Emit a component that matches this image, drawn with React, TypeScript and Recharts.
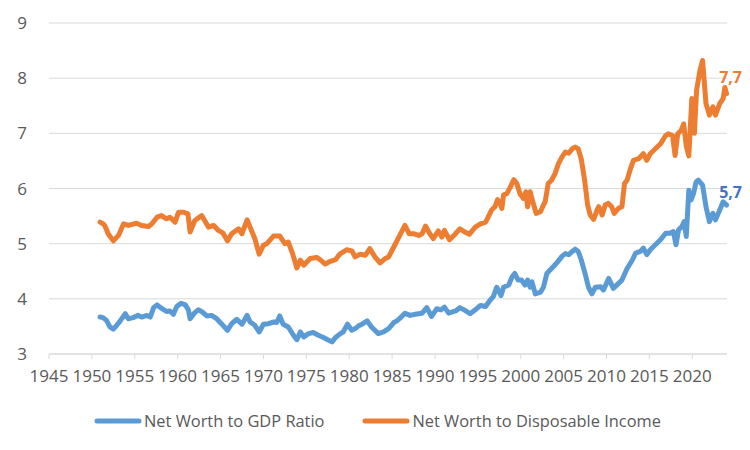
import { LineChart, Line, XAxis, YAxis, CartesianGrid, Legend } from "recharts";

// Net worth to GDP ratio (blue)
const gdpYears = [
  1950.95, 1951.3, 1951.7, 1952.1, 1952.5, 1952.9, 1953.3, 1953.9, 1954.25, 1954.8,
  1955.4, 1955.8, 1956.4, 1956.8, 1957.2, 1957.6, 1958.1, 1958.7, 1959.1, 1959.5,
  1959.9, 1960.4, 1960.9, 1961.25, 1961.45, 1962.0, 1962.4, 1962.8, 1963.4, 1963.95,
  1964.55, 1965.1, 1965.8, 1966.3, 1966.9, 1967.5, 1968.1, 1968.45, 1969.0, 1969.5,
  1970.0, 1970.6, 1971.2, 1971.55, 1971.9, 1972.3, 1972.9, 1973.5, 1973.9, 1974.3,
  1974.7, 1975.25, 1975.8, 1976.4, 1977.0, 1977.6, 1978.0, 1978.4, 1978.9, 1979.3,
  1979.8, 1980.3, 1980.7, 1981.1, 1981.5, 1982.1, 1982.6, 1983.4, 1984.0, 1984.6,
  1985.2, 1985.55, 1986.0, 1986.5, 1987.1, 1987.7, 1988.5, 1989.05, 1989.6, 1990.2,
  1990.7, 1991.1, 1991.6, 1992.4, 1992.9, 1993.5, 1994.1, 1994.7, 1995.3, 1995.9,
  1996.4, 1996.8, 1997.2, 1997.5, 1997.7, 1998.0, 1998.6, 1999.0, 1999.3, 1999.7,
  2000.1, 2000.5, 2000.8, 2001.1, 2001.3, 2001.7, 2002.3, 2002.65, 2003.05, 2003.4,
  2003.9, 2004.3, 2004.8, 2005.2, 2005.6, 2006.0, 2006.35, 2006.7, 2007.05, 2007.5,
  2007.9, 2008.3, 2008.7, 2009.3, 2009.65, 2010.25, 2010.8, 2011.4, 2011.8, 2012.4,
  2013.0, 2013.4, 2013.95, 2014.3, 2014.7, 2015.1, 2015.7, 2016.3, 2016.9, 2017.4,
  2017.8, 2018.1, 2018.4, 2018.8, 2019.05, 2019.3, 2019.6, 2019.85, 2020.15, 2020.45,
  2020.7, 2021.2, 2021.6, 2022.0, 2022.4, 2022.7, 2023.2, 2023.6, 2024.0,
];
const gdpValues = [
  3.67, 3.66, 3.61, 3.49, 3.45, 3.52, 3.6, 3.73, 3.64, 3.66,
  3.7, 3.67, 3.7, 3.67, 3.84, 3.89, 3.83, 3.77, 3.78, 3.72,
  3.86, 3.92, 3.89, 3.8, 3.64, 3.75, 3.8, 3.77, 3.69, 3.7,
  3.64, 3.55, 3.43, 3.55, 3.63, 3.54, 3.7, 3.58, 3.52, 3.4,
  3.54, 3.55, 3.58, 3.57, 3.69, 3.54, 3.49, 3.34, 3.26, 3.4,
  3.31, 3.37, 3.39, 3.34, 3.3, 3.25, 3.22, 3.3, 3.36, 3.4,
  3.54, 3.43, 3.46, 3.51, 3.54, 3.6, 3.49, 3.37, 3.4, 3.46,
  3.57, 3.6, 3.66, 3.74, 3.7, 3.72, 3.74, 3.84, 3.68, 3.82,
  3.8, 3.85, 3.74, 3.78, 3.84, 3.79, 3.73, 3.8, 3.88, 3.86,
  3.97, 4.04, 4.21, 4.12, 4.06, 4.21, 4.25, 4.4, 4.46, 4.34,
  4.34, 4.25, 4.34, 4.21, 4.31, 4.09, 4.12, 4.21, 4.46, 4.52,
  4.6, 4.67, 4.77, 4.82, 4.8, 4.86, 4.9, 4.86, 4.71, 4.46,
  4.21, 4.09, 4.21, 4.22, 4.16, 4.37, 4.19, 4.28, 4.34, 4.55,
  4.7, 4.83, 4.86, 4.92, 4.8, 4.89, 4.98, 5.07, 5.19, 5.19,
  5.22, 4.98, 5.25, 5.31, 5.4, 5.13, 5.97, 5.79, 5.91, 6.12,
  6.15, 6.06, 5.67, 5.4, 5.55, 5.43, 5.61, 5.76, 5.7,
];

// Net worth to disposable income (orange)
const dpiYears = [
  1950.95, 1951.3, 1951.5, 1951.9, 1952.5, 1953.1, 1953.7, 1954.25, 1954.7, 1955.2,
  1955.8, 1956.6, 1957.0, 1957.6, 1958.1, 1958.7, 1959.1, 1959.7, 1960.1, 1960.7,
  1961.2, 1961.45, 1962.0, 1962.8, 1963.6, 1964.2, 1964.75, 1965.3, 1965.8, 1966.3,
  1967.1, 1967.5, 1968.1, 1968.45, 1969.0, 1969.5, 1970.0, 1970.4, 1971.2, 1971.9,
  1972.5, 1972.9, 1973.4, 1973.9, 1974.3, 1974.7, 1975.45, 1976.2, 1976.6, 1977.2,
  1977.8, 1978.4, 1978.9, 1979.7, 1980.3, 1980.7, 1981.3, 1981.9, 1982.4, 1983.0,
  1983.6, 1984.2, 1984.6, 1985.2, 1985.7, 1986.5, 1987.0, 1987.5, 1988.1, 1988.5,
  1988.9, 1989.4, 1989.8, 1990.4, 1990.8, 1991.1, 1991.7, 1992.4, 1992.9, 1993.5,
  1994.0, 1994.7, 1995.3, 1995.9, 1996.2, 1996.6, 1997.0, 1997.3, 1997.6, 1997.8,
  1998.0, 1998.4, 1998.8, 1999.2, 1999.55, 1999.9, 2000.3, 2000.6, 2000.8, 2001.1,
  2001.4, 2001.8, 2002.3, 2002.65, 2002.85, 2003.2, 2003.6, 2004.0, 2004.4, 2004.8,
  2005.2, 2005.6, 2006.0, 2006.35, 2006.7, 2007.05, 2007.45, 2007.8, 2008.1, 2008.5,
  2008.9, 2009.1, 2009.5, 2009.85, 2010.2, 2010.6, 2010.9, 2011.4, 2011.8, 2012.1,
  2012.4, 2012.8, 2013.15, 2013.75, 2014.3, 2014.7, 2015.1, 2015.7, 2016.3, 2016.9,
  2017.2, 2017.7, 2018.0, 2018.3, 2018.7, 2019.0, 2019.3, 2019.6, 2019.95, 2020.25,
  2020.5, 2020.9, 2021.2, 2021.6, 2022.0, 2022.4, 2022.7, 2023.2, 2023.6, 2023.8,
  2024.0,
];
const dpiValues = [
  5.39, 5.36, 5.33, 5.18, 5.05, 5.15, 5.36, 5.33, 5.35, 5.37,
  5.33, 5.31, 5.36, 5.48, 5.51, 5.45, 5.48, 5.39, 5.57, 5.57,
  5.54, 5.21, 5.42, 5.51, 5.3, 5.33, 5.24, 5.19, 5.05, 5.18,
  5.27, 5.18, 5.43, 5.3, 5.09, 4.81, 4.97, 5.0, 5.14, 5.14,
  5.0, 5.03, 4.82, 4.56, 4.7, 4.61, 4.73, 4.75, 4.71, 4.63,
  4.68, 4.71, 4.81, 4.89, 4.87, 4.76, 4.81, 4.79, 4.91, 4.76,
  4.65, 4.73, 4.76, 4.94, 5.09, 5.33, 5.18, 5.18, 5.15, 5.18,
  5.32, 5.18, 5.09, 5.23, 5.12, 5.24, 5.07, 5.18, 5.27, 5.21,
  5.17, 5.3, 5.36, 5.39, 5.48, 5.61, 5.67, 5.8, 5.73, 5.64,
  5.88, 5.91, 6.03, 6.16, 6.09, 5.91, 5.82, 5.94, 5.67, 5.94,
  5.76, 5.55, 5.58, 5.7, 5.76, 6.09, 6.15, 6.27, 6.45, 6.57,
  6.66, 6.64, 6.72, 6.75, 6.72, 6.54, 6.15, 5.7, 5.52, 5.44,
  5.61, 5.67, 5.52, 5.7, 5.73, 5.67, 5.55, 5.64, 5.67, 6.09,
  6.15, 6.36, 6.51, 6.54, 6.63, 6.51, 6.63, 6.72, 6.81, 6.96,
  6.99, 6.96, 6.6, 6.99, 7.05, 7.17, 6.77, 6.59, 7.63, 7.0,
  7.78, 8.14, 8.32, 7.54, 7.33, 7.48, 7.33, 7.54, 7.63, 7.83,
  7.72,
];

const xTicks = [1945, 1950, 1955, 1960, 1965, 1970, 1975, 1980, 1985, 1990, 1995, 2000, 2005, 2010, 2015, 2020];
const yTicks = [3, 4, 5, 6, 7, 8, 9];

const BLUE = "#5B9BD5";
const ORANGE = "#ED7D31";
const FONT = "'Open Sans', sans-serif";

const gdpData = gdpYears.map((year, i) => ({ year, value: gdpValues[i] }));
const dpiData = dpiYears.map((year, i) => ({ year, value: dpiValues[i] }));

function endLabel(count: number, color: string, dy: number) {
  return (props: any) => {
    if (props.index !== count - 1) return null;
    return (
      <text x={props.x + 4} y={props.y + dy} textAnchor="middle" fill={color}
        style={{ fontFamily: FONT, fontSize: 16, fontWeight: 700 }}>
        {Number(props.value).toFixed(1).replace(".", ",")}
      </text>
    );
  };
}

function LegendBox() {
  const items = [
    { label: "Net Worth to GDP Ratio", color: BLUE },
    { label: "Net Worth to Disposable Income", color: ORANGE },
  ];
  return (
    <div style={{ display: "flex", alignItems: "center", fontFamily: FONT, fontSize: 16.4, color: "#595959" }}>
      {items.map((it, i) => (
        <div key={it.label} style={{ display: "flex", alignItems: "center", marginLeft: i ? 38 : 0 }}>
          <svg width={48} height={8} style={{ marginRight: 2 }}>
            <line x1={3} y1={4} x2={45} y2={4} stroke={it.color} strokeWidth={5} strokeLinecap="round" />
          </svg>
          <span>{it.label}</span>
        </div>
      ))}
    </div>
  );
}

export default function App() {
  return (
    <div style={{ position: "fixed", top: 0, left: 0, width: 750, height: 450, background: "#fff" }}>
      <LineChart width={750} height={450} margin={{ top: 23, right: 23, bottom: 56, left: 0 }}
        style={{ fontFamily: FONT }}>
        <CartesianGrid horizontal vertical={false} stroke="#d9d9d9" strokeWidth={1} />
        <XAxis type="number" dataKey="year" domain={[1945, 2024.05]} ticks={xTicks} height={40}
          allowDuplicatedCategory={false}
          axisLine={{ stroke: "#d9d9d9" }} tickLine={{ stroke: "#d9d9d9" }} tickSize={5} tickMargin={11}
          tick={{ fill: "#595959", fontSize: 17, fontFamily: FONT }} interval={0} />
        <YAxis type="number" domain={[3, 9]} ticks={yTicks} width={49} axisLine={false} tickLine={false}
          tickMargin={16} tick={{ fill: "#595959", fontSize: 17, fontFamily: FONT }} />
        <Legend layout="horizontal" verticalAlign="middle" align="center"
          wrapperStyle={{ top: 409, left: 94, width: 650 }} content={() => <LegendBox />} />
        <Line data={gdpData} dataKey="value" name="Net Worth to GDP Ratio" type="linear" stroke={BLUE}
          strokeWidth={5} dot={false} strokeLinejoin="round" strokeLinecap="round"
          isAnimationActive={false} label={endLabel(gdpData.length, "#4472C4", -7)} />
        <Line data={dpiData} dataKey="value" name="Net Worth to Disposable Income" type="linear" stroke={ORANGE}
          strokeWidth={5} dot={false} strokeLinejoin="round" strokeLinecap="round"
          isAnimationActive={false} label={endLabel(dpiData.length, ORANGE, -11)} />
      </LineChart>
    </div>
  );
}
